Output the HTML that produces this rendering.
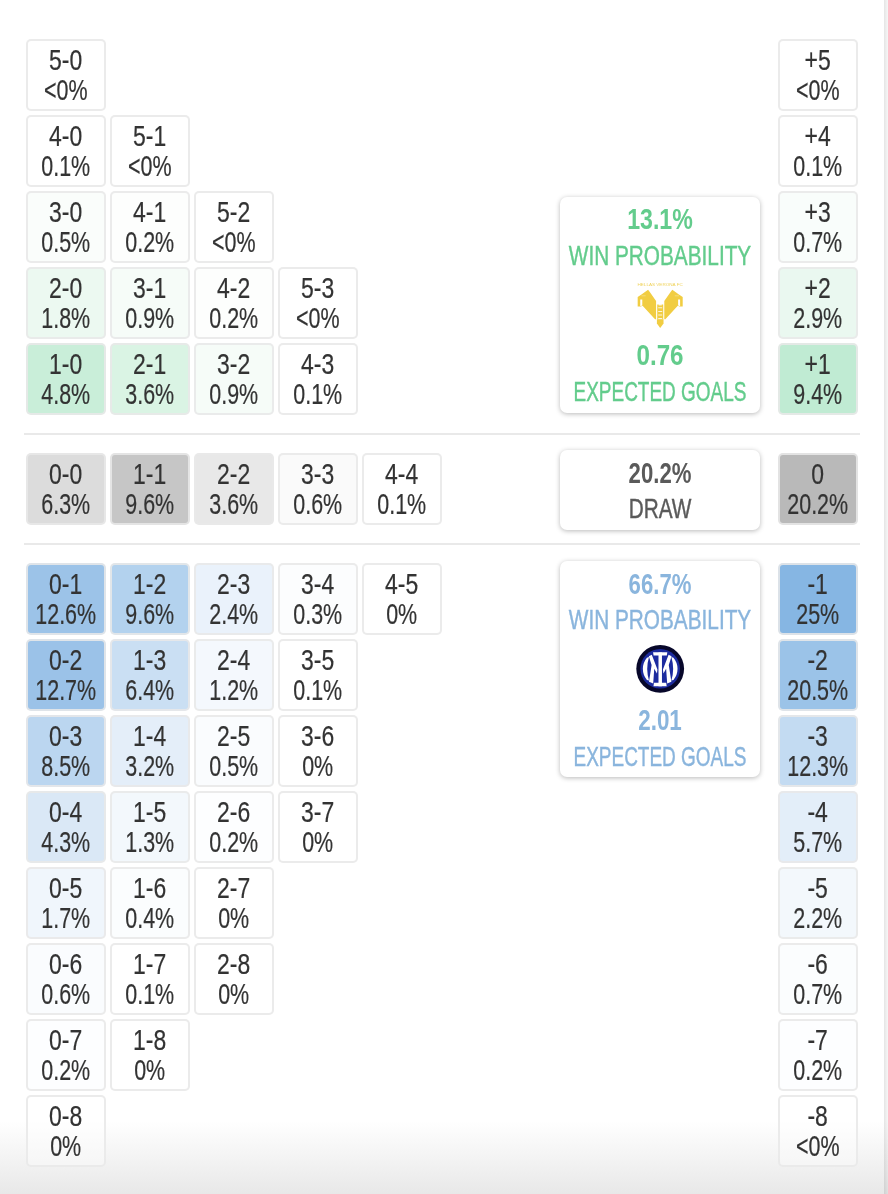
<!DOCTYPE html>
<html lang="en">
<head>
<meta charset="utf-8">
<title>Score probabilities</title>
<style>
html,body{margin:0;padding:0;}
body{width:888px;height:1194px;position:relative;overflow:hidden;background:#fff;font-family:"Liberation Sans",sans-serif;color:#333;}
.bgfade{position:absolute;left:0;top:1121px;width:888px;height:73px;background:linear-gradient(to bottom,#fff,#e8e8e8);}
.rstrip{position:absolute;left:884px;top:0;width:4px;height:1194px;background:linear-gradient(to right,rgba(0,0,0,0.10),rgba(0,0,0,0.035));}
.t{position:absolute;width:79.4px;height:71.5px;box-sizing:border-box;border:2px solid rgba(232,232,232,0.88);border-radius:5px;text-align:center;font-size:30px;line-height:30px;padding-top:4.2px;white-space:nowrap;}
.s{display:block;margin:0 -20px;-webkit-text-stroke:0.22px #333;transform:scaleX(0.765);transform-origin:50% 50%;}
.s2{transform:scaleX(0.716);}
.hr{position:absolute;left:24px;width:836px;height:2px;background:#e9e9e9;}
.card{position:absolute;left:559.5px;width:200.5px;background:#fff;border-radius:7px;box-shadow:0 1px 5px rgba(0,0,0,0.28);text-align:center;white-space:nowrap;}
.card .l{position:absolute;left:0;width:201px;font-size:28px;line-height:30px;height:30px;}
.card .l span{position:absolute;left:50%;top:0;transform-origin:50% 50%;}
.logo{position:absolute;}
.card .l:not(.b){-webkit-text-stroke:0.45px currentColor;}
.b{font-weight:bold;font-size:30px !important;}
.g{color:#63cc8c;}
.bl{color:#8ab5dd;}
.d{color:#5a5a5a;}
</style>
</head>
<body>
<div class="bgfade"></div>
<div class="rstrip"></div>
<div class="hr" style="top:433px"></div>
<div class="hr" style="top:543px"></div>
<div class="t" style="left:26.3px;top:39px;background:#fff"><span class="s">5-0</span><span class="s s2">&lt;0%</span></div>
<div class="t" style="left:26.3px;top:115px;background:#fff"><span class="s">4-0</span><span class="s s2">0.1%</span></div>
<div class="t" style="left:110.3px;top:115px;background:#fff"><span class="s">5-1</span><span class="s s2">&lt;0%</span></div>
<div class="t" style="left:26.3px;top:191px;background:#fafdfb"><span class="s">3-0</span><span class="s s2">0.5%</span></div>
<div class="t" style="left:110.3px;top:191px;background:#fdfefd"><span class="s">4-1</span><span class="s s2">0.2%</span></div>
<div class="t" style="left:194.3px;top:191px;background:#fff"><span class="s">5-2</span><span class="s s2">&lt;0%</span></div>
<div class="t" style="left:26.3px;top:267px;background:#ecf9f1"><span class="s">2-0</span><span class="s s2">1.8%</span></div>
<div class="t" style="left:110.3px;top:267px;background:#f6fcf8"><span class="s">3-1</span><span class="s s2">0.9%</span></div>
<div class="t" style="left:194.3px;top:267px;background:#fdfefd"><span class="s">4-2</span><span class="s s2">0.2%</span></div>
<div class="t" style="left:278.3px;top:267px;background:#fff"><span class="s">5-3</span><span class="s s2">&lt;0%</span></div>
<div class="t" style="left:26.3px;top:343px;background:#c9eed9"><span class="s">1-0</span><span class="s s2">4.8%</span></div>
<div class="t" style="left:110.3px;top:343px;background:#daf4e4"><span class="s">2-1</span><span class="s s2">3.6%</span></div>
<div class="t" style="left:194.3px;top:343px;background:#f6fcf8"><span class="s">3-2</span><span class="s s2">0.9%</span></div>
<div class="t" style="left:278.3px;top:343px;background:#fff"><span class="s">4-3</span><span class="s s2">0.1%</span></div>
<div class="t" style="left:26.3px;top:453px;background:#dcdcdc"><span class="s">0-0</span><span class="s s2">6.3%</span></div>
<div class="t" style="left:110.3px;top:453px;background:#c6c6c6"><span class="s">1-1</span><span class="s s2">9.6%</span></div>
<div class="t" style="left:194.3px;top:453px;background:#e8e8e8"><span class="s">2-2</span><span class="s s2">3.6%</span></div>
<div class="t" style="left:278.3px;top:453px;background:#fafafa"><span class="s">3-3</span><span class="s s2">0.6%</span></div>
<div class="t" style="left:362.3px;top:453px;background:#fff"><span class="s">4-4</span><span class="s s2">0.1%</span></div>
<div class="t" style="left:26.3px;top:563px;background:#9cc3e8"><span class="s">0-1</span><span class="s s2">12.6%</span></div>
<div class="t" style="left:110.3px;top:563px;background:#b3d2ee"><span class="s">1-2</span><span class="s s2">9.6%</span></div>
<div class="t" style="left:194.3px;top:563px;background:#eaf2fb"><span class="s">2-3</span><span class="s s2">2.4%</span></div>
<div class="t" style="left:278.3px;top:563px;background:#fcfdfe"><span class="s">3-4</span><span class="s s2">0.3%</span></div>
<div class="t" style="left:362.3px;top:563px;background:#fff"><span class="s">4-5</span><span class="s s2">0%</span></div>
<div class="t" style="left:26.3px;top:639px;background:#9bc2e8"><span class="s">0-2</span><span class="s s2">12.7%</span></div>
<div class="t" style="left:110.3px;top:639px;background:#cadff3"><span class="s">1-3</span><span class="s s2">6.4%</span></div>
<div class="t" style="left:194.3px;top:639px;background:#f4f8fd"><span class="s">2-4</span><span class="s s2">1.2%</span></div>
<div class="t" style="left:278.3px;top:639px;background:#fff"><span class="s">3-5</span><span class="s s2">0.1%</span></div>
<div class="t" style="left:26.3px;top:715px;background:#bbd6f0"><span class="s">0-3</span><span class="s s2">8.5%</span></div>
<div class="t" style="left:110.3px;top:715px;background:#e4eef9"><span class="s">1-4</span><span class="s s2">3.2%</span></div>
<div class="t" style="left:194.3px;top:715px;background:#fafcfe"><span class="s">2-5</span><span class="s s2">0.5%</span></div>
<div class="t" style="left:278.3px;top:715px;background:#fff"><span class="s">3-6</span><span class="s s2">0%</span></div>
<div class="t" style="left:26.3px;top:791px;background:#dae8f6"><span class="s">0-4</span><span class="s s2">4.3%</span></div>
<div class="t" style="left:110.3px;top:791px;background:#f3f8fc"><span class="s">1-5</span><span class="s s2">1.3%</span></div>
<div class="t" style="left:194.3px;top:791px;background:#fdfeff"><span class="s">2-6</span><span class="s s2">0.2%</span></div>
<div class="t" style="left:278.3px;top:791px;background:#fff"><span class="s">3-7</span><span class="s s2">0%</span></div>
<div class="t" style="left:26.3px;top:867px;background:#f0f6fc"><span class="s">0-5</span><span class="s s2">1.7%</span></div>
<div class="t" style="left:110.3px;top:867px;background:#fbfdfe"><span class="s">1-6</span><span class="s s2">0.4%</span></div>
<div class="t" style="left:194.3px;top:867px;background:#fff"><span class="s">2-7</span><span class="s s2">0%</span></div>
<div class="t" style="left:26.3px;top:943px;background:#fafcfe"><span class="s">0-6</span><span class="s s2">0.6%</span></div>
<div class="t" style="left:110.3px;top:943px;background:#fff"><span class="s">1-7</span><span class="s s2">0.1%</span></div>
<div class="t" style="left:194.3px;top:943px;background:#fff"><span class="s">2-8</span><span class="s s2">0%</span></div>
<div class="t" style="left:26.3px;top:1019px;background:#fdfeff"><span class="s">0-7</span><span class="s s2">0.2%</span></div>
<div class="t" style="left:110.3px;top:1019px;background:#fff"><span class="s">1-8</span><span class="s s2">0%</span></div>
<div class="t" style="left:26.3px;top:1095px;background:rgba(255,255,255,0.35)"><span class="s">0-8</span><span class="s s2">0%</span></div>
<div class="t" style="left:778.2px;top:39px;background:#fff"><span class="s">+5</span><span class="s s2">&lt;0%</span></div>
<div class="t" style="left:778.2px;top:115px;background:#fff"><span class="s">+4</span><span class="s s2">0.1%</span></div>
<div class="t" style="left:778.2px;top:191px;background:#f9fdfb"><span class="s">+3</span><span class="s s2">0.7%</span></div>
<div class="t" style="left:778.2px;top:267px;background:#eaf8f0"><span class="s">+2</span><span class="s s2">2.9%</span></div>
<div class="t" style="left:778.2px;top:343px;background:#c0ebd3"><span class="s">+1</span><span class="s s2">9.4%</span></div>
<div class="t" style="left:778.2px;top:453px;background:#b9b9b9"><span class="s">0</span><span class="s s2">20.2%</span></div>
<div class="t" style="left:778.2px;top:563px;background:#86b6e3"><span class="s">-1</span><span class="s s2">25%</span></div>
<div class="t" style="left:778.2px;top:639px;background:#9bc3e8"><span class="s">-2</span><span class="s s2">20.5%</span></div>
<div class="t" style="left:778.2px;top:715px;background:#c3dbf2"><span class="s">-3</span><span class="s s2">12.3%</span></div>
<div class="t" style="left:778.2px;top:791px;background:#e3eef9"><span class="s">-4</span><span class="s s2">5.7%</span></div>
<div class="t" style="left:778.2px;top:867px;background:#f3f8fc"><span class="s">-5</span><span class="s s2">2.2%</span></div>
<div class="t" style="left:778.2px;top:943px;background:#fbfdfe"><span class="s">-6</span><span class="s s2">0.7%</span></div>
<div class="t" style="left:778.2px;top:1019px;background:#fdfeff"><span class="s">-7</span><span class="s s2">0.2%</span></div>
<div class="t" style="left:778.2px;top:1095px;background:rgba(255,255,255,0.35)"><span class="s">-8</span><span class="s s2">&lt;0%</span></div>

<div class="card g" style="top:197px;height:215.5px">
  <div class="l b" style="top:7.3px"><span style="transform:translateX(-50%) scaleX(0.771)">13.1%</span></div>
  <div class="l" style="top:43.9px"><span style="transform:translateX(-50%) scaleX(0.742)">WIN PROBABILITY</span></div>
<svg class="logo" style="left:72.5px;top:81px" width="56" height="54" viewBox="0 0 888 856">
<text x="446" y="124" text-anchor="middle" font-family="Liberation Sans, sans-serif" font-size="68" fill="#efd25a" textLength="718" lengthAdjust="spacingAndGlyphs">HELLAS VERONA FC</text>
<g fill="#f1cd42">
<polygon points="90,300 150,262 255,188 285,225 382,365 382,655 365,655 168,440 140,452 90,452"/>
<polygon points="804,300 744,262 639,188 609,225 512,365 512,655 529,655 726,440 754,452 804,452"/>
<rect x="400" y="420" width="95" height="235"/>
<polygon points="395,652 500,652 500,722 447,792 395,722"/>
</g>
<g fill="#fff">
<polygon points="131,340 163,340 163,434 131,447"/>
<polygon points="763,340 731,340 731,434 763,447"/>
<rect x="150" y="279" width="66" height="9" opacity="0.55"/>
<rect x="678" y="279" width="66" height="9" opacity="0.55"/>
<rect x="422" y="416" width="50" height="18"/>
<rect x="416" y="466" width="63" height="13" fill="#fff"/><rect x="416" y="523" width="63" height="13" fill="#fff"/><rect x="416" y="580" width="63" height="13" fill="#fff"/><rect x="416" y="637" width="63" height="13" fill="#fff"/>
</g>
</svg>
  <div class="l b" style="top:143.3px"><span style="transform:translateX(-50%) scaleX(0.807)">0.76</span></div>
  <div class="l" style="top:180.0px"><span style="transform:translateX(-50%) scaleX(0.678)">EXPECTED GOALS</span></div>
</div>
<div class="card d" style="top:450.3px;height:80.2px">
  <div class="l b" style="top:7.5px"><span style="transform:translateX(-50%) scaleX(0.738)">20.2%</span></div>
  <div class="l" style="top:44px"><span style="transform:translateX(-50%) scaleX(0.742)">DRAW</span></div>
</div>
<div class="card bl" style="top:560.5px;height:216.5px">
  <div class="l b" style="top:8.3px"><span style="transform:translateX(-50%) scaleX(0.738)">66.7%</span></div>
  <div class="l" style="top:44.9px"><span style="transform:translateX(-50%) scaleX(0.742)">WIN PROBABILITY</span></div>
<svg class="logo" style="left:72.5px;top:81.5px" width="56" height="54" viewBox="0 0 888 856">
<circle cx="447" cy="425" r="379" fill="#07072a"/>
<circle cx="447" cy="425" r="314" fill="#1c2b9e"/>
<g fill="#fff">
<path d="M236.5,248 A275,275 0 0 0 236.5,602 L270.0,612 A640,640 0 0 1 270.0,238 Z"/>
<path d="M657.5,248 A275,275 0 0 1 657.5,602 L624.0,612 A640,640 0 0 0 624.0,238 Z"/>
<rect x="420" y="166" width="55" height="536"/>
<polygon points="334,163 560,163 552,212 342,212"/>
<polygon points="348,648 543,648 550,701 341,701"/>
<polygon points="266.4,226.3 313.8,200.1 403.1,435.5 395.8,499.7 352.8,424.4 336.1,658.7 269.2,630.8 311.0,363.0"/>
<polygon points="627.6,226.3 580.2,200.1 490.9,435.5 498.2,499.7 541.2,424.4 557.9,658.7 624.8,630.8 583.0,363.0"/>
</g>
</svg>
  <div class="l b" style="top:144.3px"><span style="transform:translateX(-50%) scaleX(0.747)">2.01</span></div>
  <div class="l" style="top:181.0px"><span style="transform:translateX(-50%) scaleX(0.678)">EXPECTED GOALS</span></div>
</div>
</body>
</html>
